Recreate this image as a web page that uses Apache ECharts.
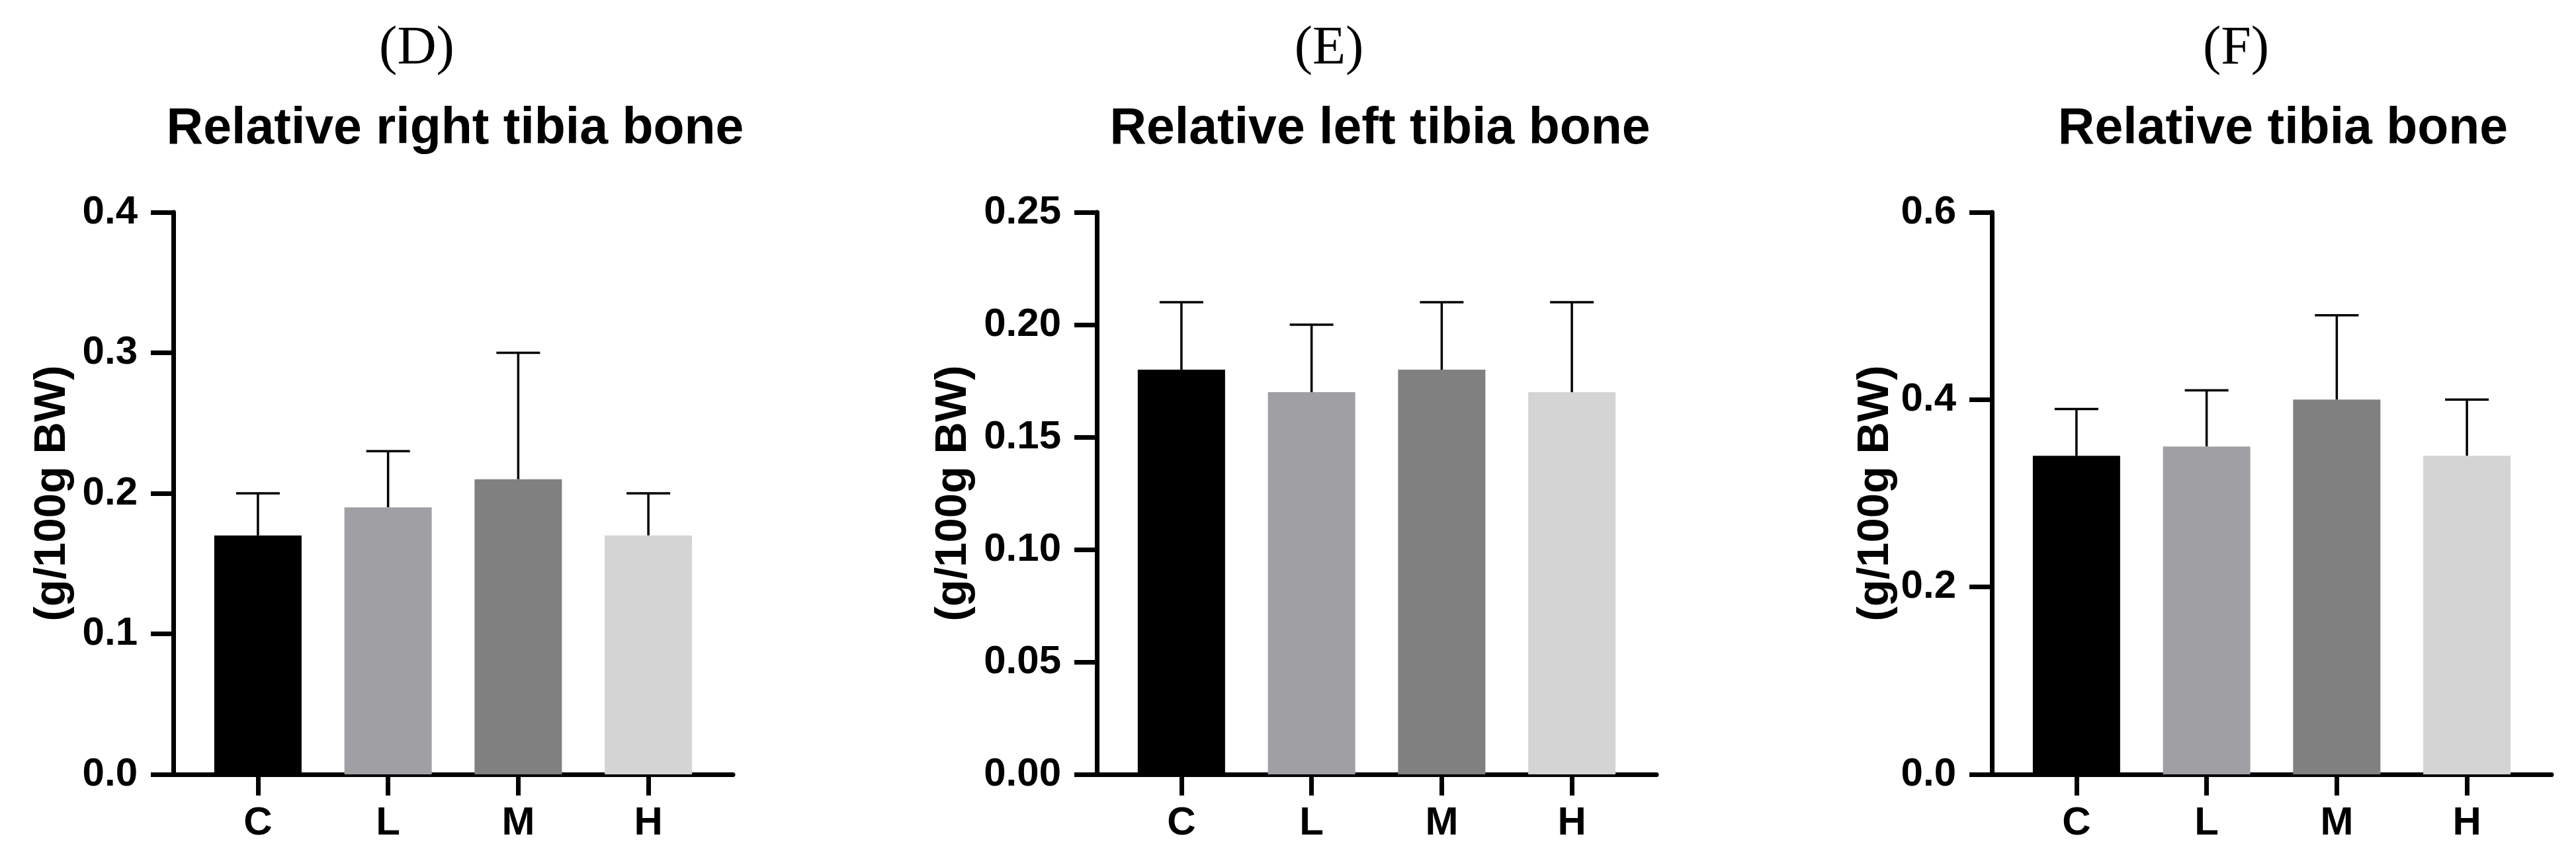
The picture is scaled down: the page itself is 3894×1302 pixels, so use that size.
<!DOCTYPE html>
<html><head><meta charset="utf-8">
<script src="https://cdn.jsdelivr.net/npm/echarts@6/dist/echarts.min.js"></script>
<style>html,body{margin:0;padding:0;background:#fff}#c{width:3894px;height:1302px}</style>
</head><body><div id="c"></div>
<script>
const categories = ['C','L','M','H'];
const colors = ['#000000','#a0a0a4','#808080','#d4d4d4'];
const panelLetters = ['(D)','(E)','(F)'];
const panelTitles = ['Relative right tibia bone','Relative left tibia bone','Relative tibia bone'];
const meansD = [0.17,0.19,0.21,0.17];
const errD = [0.03,0.04,0.09,0.03];
const meansE = [0.18,0.17,0.18,0.17];
const errE = [0.03,0.03,0.03,0.04];
const meansF = [0.34,0.35,0.40,0.34];
const errF = [0.05,0.06,0.09,0.06];
const yMax = [0.4,0.25,0.6];
const yInterval = [0.1,0.05,0.2];
const yDecimals = [1,2,1];
const yName = '(g/100g BW)';

const means = [meansD, meansE, meansF];
const errs = [errD, errE, errF];
const lefts = [262, 1658, 3011];
const nameGaps = [149, 183, 142];
const W = 846, TOP = 321, H = 850;
const FONT = '"Liberation Sans", Arial, sans-serif';

const grid = [], xAxis = [], yAxis = [], series = [], title = [];
for (let p = 0; p < 3; p++) {
  grid.push({left: lefts[p], top: TOP, width: W, height: H});
  title.push({text: panelLetters[p], left: lefts[p] + W/2 - [60,77,59][p], top: 28, textAlign: 'center',
    textStyle: {fontFamily: '"Liberation Serif", "Times New Roman", serif', fontSize: 82, fontWeight: 'normal', color: '#000'}});
  title.push({text: panelTitles[p], left: lefts[p] + W/2 + [-2,0,12][p], top: 152, textAlign: 'center',
    textStyle: {fontFamily: FONT, fontSize: 77, fontWeight: 'bold', color: '#000'}});
  xAxis.push({type: 'value', gridIndex: p, min: -0.65, max: 3.65,
    axisLine: {show: true, onZero: false, lineStyle: {color: '#000', width: 7}},
    axisTick: {show: true, customValues: [0,1,2,3], length: 32, lineStyle: {color: '#000', width: 7}},
    axisLabel: {customValues: [0,1,2,3], formatter: v => categories[Math.round(v)], margin: 44,
      fontFamily: FONT, fontSize: 60, fontWeight: 'bold', color: '#000'},
    splitLine: {show: false}});
  yAxis.push({type: 'value', gridIndex: p, min: 0, max: yMax[p], interval: yInterval[p],
    name: yName, nameLocation: 'middle', nameGap: nameGaps[p], nameRotate: 90,
    nameTextStyle: {fontFamily: FONT, fontSize: 67, fontWeight: 'bold', color: '#000'},
    axisLine: {show: true, onZero: false, lineStyle: {color: '#000', width: 7}},
    axisTick: {show: true, length: 34, lineStyle: {color: '#000', width: 7}},
    axisLabel: {formatter: v => v.toFixed(yDecimals[p]), margin: 54,
      fontFamily: FONT, fontSize: 60, fontWeight: 'bold', color: '#000'},
    splitLine: {show: false}});
  series.push({type: 'custom', xAxisIndex: p, yAxisIndex: p, z: 1,
    data: means[p].map((m, i) => [i, m, m + errs[p][i]]),
    renderItem: (params, api) => {
      const b = api.coord([api.value(0), api.value(1)]);
      const t = api.coord([api.value(0), api.value(2)]);
      const s = {stroke: '#000', lineWidth: 3.5};
      return {type: 'group', children: [
        {type: 'line', shape: {x1: b[0], y1: b[1], x2: t[0], y2: t[1]}, style: s},
        {type: 'line', shape: {x1: t[0] - 33, y1: t[1], x2: t[0] + 33, y2: t[1]}, style: s}
      ]};
    }});
  series.push({type: 'bar', xAxisIndex: p, yAxisIndex: p, barWidth: 132, z: 2,
    data: means[p].map((m, i) => ({value: [i, m], itemStyle: {color: colors[i]}}))});
}
const chart = echarts.init(document.getElementById('c'));
chart.setOption({animation: false, backgroundColor: '#fff', title, grid, xAxis, yAxis, series});
</script></body></html>
